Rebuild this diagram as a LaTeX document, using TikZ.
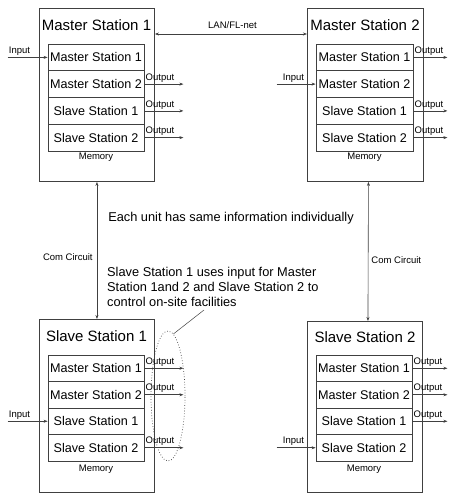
\documentclass[tikz,border=0pt]{standalone}
\usepackage{fontspec}
\setmainfont{Liberation Sans}
\usetikzlibrary{arrows.meta,shapes.geometric,calc}
\begin{document}
\begin{tikzpicture}[x=1pt,y=-1pt,
  outer/.style={draw=black!75,line width=0.9pt,minimum width=115pt,anchor=north west,inner sep=0pt},
  ttl/.style={font=\fontsize{15}{18}\selectfont,inner sep=0pt},
  row/.style={draw=black!75,line width=0.8pt,minimum width=96pt,minimum height=26.6pt,inner sep=0pt,font=\fontsize{12.6}{15}\selectfont},
  small/.style={font=\fontsize{9.5}{11}\selectfont,inner sep=0pt},
  big/.style={font=\fontsize{12.8}{15.2}\selectfont,inner sep=0pt},
  tip/.tip={Stealth[length=4pt,width=3pt]},
  arr/.style={-tip,draw=black!75,line width=0.6pt},
  darr/.style={tip-tip,draw=black!75,line width=0.6pt},
  outlbl/.style={small,pos=0,anchor=south west,xshift=1pt,yshift=1.6pt},
]
\useasboundingbox (0,0) rectangle (448,493);

% ---------- Master Station 1 ----------
\node[outer,minimum height=173pt] (M1) at (39,8) {};
\node[ttl] (M1t) at (96.5,25) {Master Station 1};
\node[row] (m1a) at (96,57.4) {Master Station 1};
\node[row] (m1b) at (96,84.1) {Master Station 2};
\node[row] (m1c) at (96,110.9) {Slave Station 1};
\node[row] (m1d) at (96,137.6) {Slave Station 2};
\node[small] (m1mem) at (96,157) {Memory};
\draw[arr] (m1a.west) ++(-40,0) -- (m1a.west) node[outlbl]{Input};
\draw[arr] (m1b.east) -- ++(39,0) node[outlbl]{Output};
\draw[arr] (m1c.east) -- ++(39,0) node[outlbl]{Output};
\draw[arr] (m1d.east) -- ++(39,0) node[outlbl]{Output};

% ---------- Master Station 2 ----------
\node[outer,minimum height=173pt,minimum width=116pt] (M2) at (307,8) {};
\node[ttl] (M2t) at (365,25) {Master Station 2};
\node[row,minimum width=97pt] (m2a) at (364.5,57.4) {Master Station 1};
\node[row,minimum width=97pt] (m2b) at (364.5,84.1) {Master Station 2};
\node[row,minimum width=97pt] (m2c) at (364.5,110.9) {Slave Station 1};
\node[row,minimum width=97pt] (m2d) at (364.5,137.6) {Slave Station 2};
\node[small] (m2mem) at (364.5,157) {Memory};
\draw[arr] (m2b.west) ++(-39,0) -- (m2b.west) node[outlbl,xshift=5pt]{Input};
\draw[arr] (m2a.east) -- ++(34,0) node[outlbl]{Output};
\draw[arr] (m2c.east) -- ++(34,0) node[outlbl]{Output};
\draw[arr] (m2d.east) -- ++(34,0) node[outlbl]{Output};

% ---------- Slave Station 1 ----------
\node[outer,minimum height=173pt] (S1) at (39,319) {};
\node[ttl] (S1t) at (96.5,336) {Slave Station 1};
\node[row,minimum height=26.5pt] (s1a) at (96,368.25) {Master Station 1};
\node[row,minimum height=26.5pt] (s1b) at (96,394.75) {Master Station 2};
\node[row,minimum height=26.5pt] (s1c) at (96,421.25) {Slave Station 1};
\node[row,minimum height=26.5pt] (s1d) at (96,447.75) {Slave Station 2};
\node[small] (s1mem) at (96,469) {Memory};
\draw[arr] (s1c.west) ++(-40,0) -- (s1c.west) node[outlbl]{Input};
\draw[arr] (s1a.east) -- ++(39,0) node[outlbl]{Output};
\draw[arr] (s1b.east) -- ++(39,0) node[outlbl]{Output};
\draw[arr] (s1d.east) -- ++(39,0) node[outlbl]{Output};

% ---------- Slave Station 2 ----------
\node[outer,minimum height=171pt] (S2) at (307,321) {};
\node[ttl] (S2t) at (365,337) {Slave Station 2};
\node[row,minimum height=26.5pt] (s2a) at (364,368.25) {Master Station 1};
\node[row,minimum height=26.5pt] (s2b) at (364,394.75) {Master Station 2};
\node[row,minimum height=26.5pt] (s2c) at (364,421.25) {Slave Station 1};
\node[row,minimum height=26.5pt] (s2d) at (364,447.75) {Slave Station 2};
\node[small] (s2mem) at (364,469) {Memory};
\draw[arr] (s2d.west) ++(-39,0) -- (s2d.west) node[outlbl,xshift=5pt]{Input};
\draw[arr] (s2a.east) -- ++(35,0) node[outlbl]{Output};
\draw[arr] (s2b.east) -- ++(35,0) node[outlbl]{Output};
\draw[arr] (s2c.east) -- ++(35,0) node[outlbl]{Output};

% ---------- links ----------
\draw[darr] ($(M1.north east)+(0,26)$) -- ($(M2.north west)+(0,26)$)
  node[small,midway,anchor=south,xshift=1.5pt,yshift=5pt]{LAN/FL-net};
\draw[darr] (M1.south) -- (S1.north)
  node[small,pos=0.55,anchor=east,xshift=-4pt]{Com Circuit};
\draw[darr] ([xshift=3pt]M2.south) -- ([xshift=3pt]S2.north)
  node[small,pos=0.56,anchor=west,xshift=3pt]{Com Circuit};

% ---------- notes ----------
\node[big] (info) at (231,218) {Each unit has same information individually};
\node[big,align=left,anchor=base west] (note) at (107,306.8)
  {Slave Station 1 uses input for Master\\Station 1and 2 and Slave Station 2 to\\control on-site facilities};
\node[ellipse,draw=black!75,dotted,line width=0.7pt,minimum width=34pt,minimum height=130pt,inner sep=0pt] (ell) at (168,396) {};
\coordinate (ptr) at (204,310);
\draw[black!75,line width=0.5pt] (ptr) -- (ell.85);
\end{tikzpicture}
\end{document}
